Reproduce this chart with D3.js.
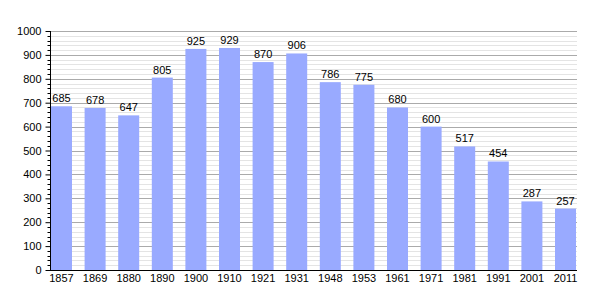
<!DOCTYPE html>
<html><head><meta charset="utf-8">
<script src="https://cdn.jsdelivr.net/npm/d3@7"></script>
<style>body{margin:0;background:#fff}svg{display:block}text{font-family:"Liberation Sans",Arial,sans-serif}</style>
</head><body>
<svg id="c" width="605" height="300"></svg>
<script>
const years = ["1857","1869","1880","1890","1900","1910","1921","1931","1948","1953","1961","1971","1981","1991","2001","2011"];
const population = [685,678,647,805,925,929,870,906,786,775,680,600,517,454,287,257];
const yTicks = [0,100,200,300,400,500,600,700,800,900,1000];

(function(){
const svg = d3.select("#c");
const mL = 50, mR = 577, mT = 31, mB = 270;
const step = 33.6;
const x = d3.scaleBand().domain(years).range([mL, mL + step*years.length]).paddingInner(0).paddingOuter(0);
const y = d3.scaleLinear().domain([0,1000]).range([mB, mT]);
const barW = 21;

// minor grid
const minor = d3.range(0, 1001, 20).filter(v => v % 100 !== 0);
svg.append("g").selectAll("line").data(minor).join("line")
  .attr("x1", mL).attr("x2", mR).attr("y1", d=>Math.round(y(d))+0.5).attr("y2", d=>Math.round(y(d))+0.5)
  .attr("stroke", "#e4e4e4").attr("stroke-width", 1);
svg.append("g").selectAll("line").data(yTicks.filter(v=>v>0)).join("line")
  .attr("x1", mL).attr("x2", mR).attr("y1", d=>Math.round(y(d))+0.5).attr("y2", d=>Math.round(y(d))+0.5)
  .attr("stroke", "#aaaaaa").attr("stroke-width", 1);

// bars
svg.append("g").selectAll("rect").data(years).join("rect")
  .attr("x", d => x(d) + 1).attr("width", barW)
  .attr("y", (d,i) => y(population[i])).attr("height", (d,i) => mB - y(population[i]))
  .attr("fill", "#99aaff");

// value labels
svg.append("g").selectAll("text").data(years).join("text")
  .attr("x", d => x(d) + 1 + barW/2).attr("y", (d,i) => y(population[i]) - 4)
  .attr("text-anchor", "middle").attr("font-size", 11).attr("fill", "#000")
  .text((d,i) => population[i]);

// y axis
const ya = svg.append("g").attr("transform", `translate(${mL+0.5},0)`)
  .call(d3.axisLeft(y).tickValues(yTicks).tickSize(5).tickPadding(4).tickFormat(d3.format("d")));
ya.selectAll("text").attr("font-size", 11).attr("font-family", '"Liberation Sans",Arial,sans-serif').attr("fill","#000");
ya.select(".domain").attr("stroke", "#000").attr("d", `M0,${mT}V${mB}`);
ya.selectAll(".tick line").attr("stroke", "#000");
svg.append("g").selectAll("line").data(minor).join("line")
  .attr("x1", mL-2.5).attr("x2", mL).attr("y1", d=>Math.round(y(d))+0.5).attr("y2", d=>Math.round(y(d))+0.5)
  .attr("stroke", "#000");

// x axis
svg.append("line").attr("x1", mL).attr("x2", mR).attr("y1", mB+0.5).attr("y2", mB+0.5).attr("stroke", "#000");
svg.append("g").selectAll("text").data(years).join("text")
  .attr("x", d => x(d) + 1 + barW/2).attr("y", mB + 12)
  .attr("text-anchor", "middle").attr("font-size", 11).attr("fill", "#000")
  .text(d => d);
})();
</script>
</body></html>
